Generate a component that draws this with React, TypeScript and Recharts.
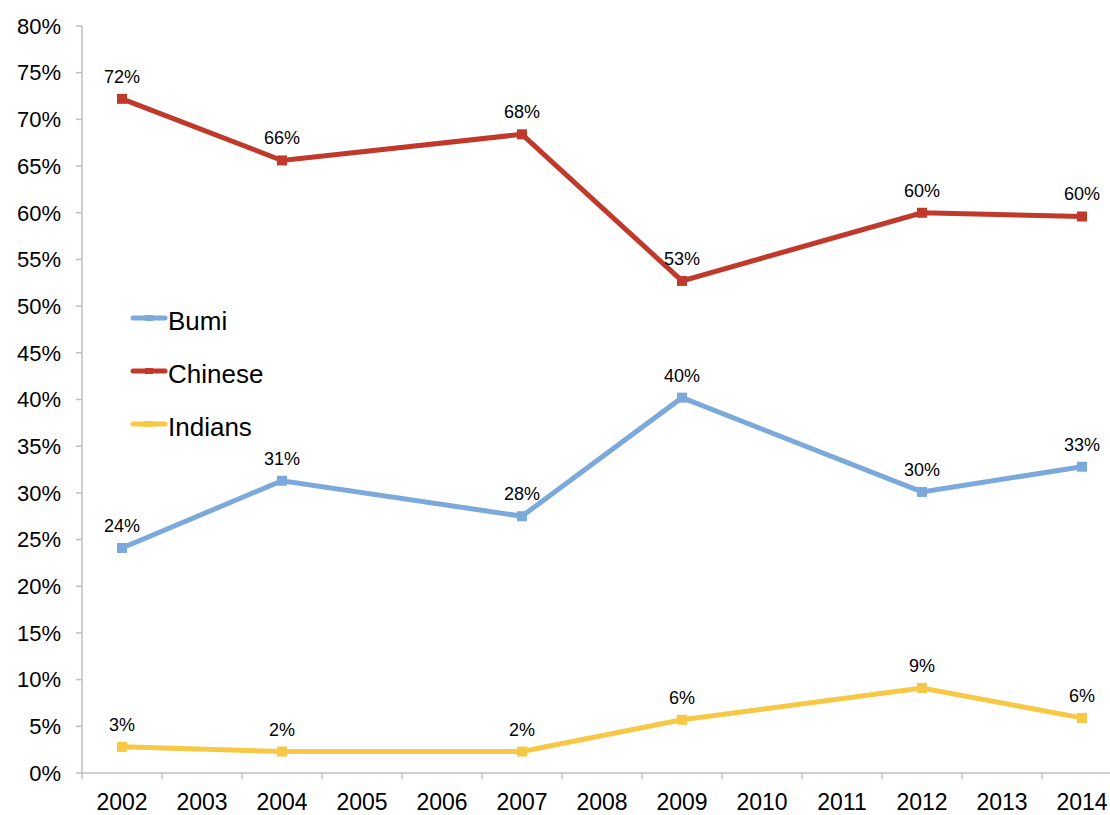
import React from 'react';
import { LineChart, Line, XAxis, YAxis, Legend, LabelList } from 'recharts';

// survey years that have data, plus every year shown on the axis
const surveyYears = [2002, 2004, 2007, 2009, 2012, 2014];
const axisYears = [2002, 2003, 2004, 2005, 2006, 2007, 2008, 2009, 2010, 2011, 2012, 2013, 2014];
const percentTicks = [0, 5, 10, 15, 20, 25, 30, 35, 40, 45, 50, 55, 60, 65, 70, 75, 80];

const bumi = [24.1, 31.3, 27.5, 40.2, 30.1, 32.8];
const chinese = [72.2, 65.6, 68.4, 52.7, 60.0, 59.6];
const indians = [2.8, 2.3, 2.3, 5.7, 9.1, 5.9];

const data = surveyYears.map((year, i) => ({
  year,
  Bumi: bumi[i],
  Chinese: chinese[i],
  Indians: indians[i],
}));

const COLORS = {
  Bumi: '#7BA9DB',
  Chinese: '#C0392B',
  Indians: '#F6C843',
};

const FONT = '"Liberation Sans", Arial, Helvetica, sans-serif';
const AXIS_GRAY = '#BFBFBF';
const TICK_SIZE = 6;
const TICK_MARGIN = 15;
const HALF_BAND = 40;

const squareDot = (color: string) => (props: any) => {
  const { cx, cy, index } = props;
  if (cx == null || cy == null) return <g key={index} />;
  return <rect key={index} x={cx - 5} y={cy - 5} width={10} height={10} fill={color} />;
};

// year label centred on the category, tick mark on the category boundary
const YearTick = (props: any) => {
  const { x, y, payload } = props;
  const lineTop = y - TICK_MARGIN - TICK_SIZE;
  return (
    <g>
      <line x1={x - HALF_BAND} x2={x - HALF_BAND} y1={lineTop} y2={lineTop + TICK_SIZE} stroke={AXIS_GRAY} strokeWidth={1.5} />
      <text x={x} y={y} dy="0.71em" textAnchor="middle" fontSize={23} fill="#000" fontFamily={FONT}>
        {payload.value}
      </text>
    </g>
  );
};

const renderLegend = (props: any) => {
  const { payload } = props;
  return (
    <div style={{ fontFamily: FONT }}>
      {payload.map((entry: any) => (
        <div key={entry.value} style={{ display: 'flex', alignItems: 'center', height: 53 }}>
          <svg width={38} height={12} style={{ marginRight: 0 }}>
            <line x1={3} x2={35} y1={6} y2={6} stroke={entry.color} strokeWidth={5} strokeLinecap="round" />
            <rect x={15} y={3} width={8} height={6} fill={entry.color} />
          </svg>
          <span style={{ fontSize: 26, color: '#000', marginTop: 8 }}>{entry.value}</span>
        </div>
      ))}
    </div>
  );
};

const labelFormat = (v: any) => (v == null ? '' : `${Math.round(Number(v))}%`);

export default function App() {
  const series: (keyof typeof COLORS)[] = ['Bumi', 'Chinese', 'Indians'];
  return (
    <div style={{ position: 'absolute', left: 0, top: 0, width: 1110, height: 815, overflow: 'hidden', background: '#fff' }}>
      <LineChart width={1122} height={815} data={data} margin={{ top: 26, right: 0, left: 0, bottom: 0 }}>
        <XAxis
          dataKey="year"
          type="number"
          domain={[2001.5, 2014.5]}
          ticks={axisYears}
          interval={0}
          height={42}
          axisLine={{ stroke: AXIS_GRAY, strokeWidth: 1.5 }}
          tickLine={false}
          tickSize={TICK_SIZE}
          tickMargin={TICK_MARGIN}
          tick={<YearTick />}
        />
        <YAxis
          type="number"
          domain={[0, 80]}
          ticks={percentTicks}
          interval={0}
          width={82}
          axisLine={{ stroke: AXIS_GRAY, strokeWidth: 1.5 }}
          tickLine={{ stroke: AXIS_GRAY, strokeWidth: 1.5 }}
          tickSize={TICK_SIZE}
          tickMargin={TICK_MARGIN}
          tickFormatter={(v) => `${v}%`}
          tick={{ fontSize: 22, fill: '#000', fontFamily: FONT }}
        />
        <Legend
          layout="vertical"
          verticalAlign="middle"
          align="center"
          content={renderLegend}
          wrapperStyle={{ left: 130, top: 291, width: 220 }}
        />
        {series.map((name) => (
          <Line
            key={name}
            type="linear"
            dataKey={name}
            stroke={COLORS[name]}
            strokeWidth={5}
            dot={squareDot(COLORS[name])}
            activeDot={false}
            isAnimationActive={false}
          >
            <LabelList
              dataKey={name}
              position="top"
              offset={16}
              formatter={labelFormat}
              style={{ fontSize: 18, fill: '#000', fontFamily: FONT }}
            />
          </Line>
        ))}
      </LineChart>
    </div>
  );
}
